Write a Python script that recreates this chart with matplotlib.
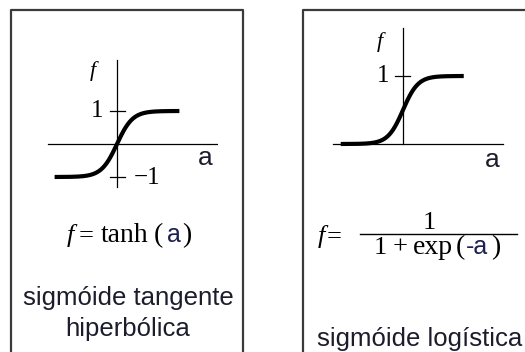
'''
Funções de ativação sigmoides: tanh e logística
'''
import numpy as np
import matplotlib
matplotlib.use("Agg")
from matplotlib import pyplot as plt

# valores de a para cada curva
a_tanh = np.linspace(-4.0, 4.0, 201)
a_logistica = np.linspace(-8.3, 8.1, 201)
f_tanh = np.tanh(a_tanh)
f_logistica = 1.0 / (1.0 + np.exp(-a_logistica))

W, H = 525, 352
SERIF = "Liberation Serif"
SANS = "Liberation Sans"
COR_TEXTO = "#1c1c2c"
COR_A = "#1c2250"

fig = plt.figure(figsize=(W / 100, H / 100), dpi=100)

# eixo de fundo em pixels, para as caixas e os textos
bg = fig.add_axes([0, 0, 1, 1])
bg.set_xlim(0, W)
bg.set_ylim(H, 0)
bg.axis("off")


def eixo_grafico(x0, y0, ux, uy, xlim, ylim):
    # x0, y0 = origem em pixels, ux, uy = pixels por unidade
    esq = x0 + xlim[0] * ux
    dir_ = x0 + xlim[1] * ux
    topo = y0 - ylim[1] * uy
    base = y0 - ylim[0] * uy
    ax = fig.add_axes([esq / W, 1 - base / H, (dir_ - esq) / W, (base - topo) / H])
    ax.set_xlim(*xlim)
    ax.set_ylim(*ylim)
    ax.axis("off")
    return ax


# caixas
kw_caixa = dict(color="#3a3a3a", lw=1.6, solid_capstyle="projecting")
bg.plot([11, 11, 243, 243], [H + 5, 10, 10, H + 5], **kw_caixa)
bg.plot([303, 303, W + 5], [H + 5, 10, 10], **kw_caixa)

# tangente hiperbólica
ax1 = eixo_grafico(117, 144, 15.6, 33, (-4.5, 6.5), (-1.5, 2.7))
ax1.plot([-4.4, 6.4], [0, 0], color="black", lw=0.9)
ax1.plot([0, 0], [-1.3, 2.55], color="black", lw=0.9)
ax1.plot([-0.45, 0.5], [1, 1], color="black", lw=0.9)
ax1.plot([-0.45, 0.5], [-1, -1], color="black", lw=0.9)
ax1.plot(a_tanh, f_tanh, color="black", lw=3.0, solid_capstyle="butt")

bg.text(93, 71, "f", family=SERIF, style="italic", fontsize=16, ha="center", va="center")
bg.text(97, 111, "1", family=SERIF, fontsize=18, ha="center", va="center")
bg.text(134, 178, "\u22121", family=SERIF, fontsize=18, ha="left", va="center")
bg.text(205, 158, "a", family=SANS, fontsize=19, color=COR_TEXTO, ha="center", va="center")

# f = tanh(a)
yb = 242
bg.text(67, yb, "f", family=SERIF, style="italic", fontsize=19, ha="left", va="baseline")
bg.text(79, yb, "=", family=SERIF, fontsize=19, ha="left", va="baseline")
bg.text(101, yb, "tanh", family=SERIF, fontsize=20, ha="left", va="baseline")
bg.text(154, yb, "(", family=SERIF, fontsize=20, ha="left", va="baseline")
bg.text(167, yb, "a", family=SANS, fontsize=18, color=COR_A, ha="left", va="baseline")
bg.text(182, yb, ")", family=SERIF, fontsize=20, ha="left", va="baseline")

bg.text(128, 298, "sigmóide tangente", family=SANS, fontsize=18.5, color=COR_TEXTO,
        ha="center", va="center")
bg.text(128, 329, "hiperbólica", family=SANS, fontsize=18.5, color=COR_TEXTO,
        ha="center", va="center")

# logística
ax2 = eixo_grafico(403, 144, 7.5, 68, (-10, 14), (-0.3, 1.8))
ax2.plot([-9.33, 13.33], [0, 0], color="black", lw=0.9)
ax2.plot([0, 0], [0, 1.7], color="black", lw=0.9)
ax2.plot([-1.07, 0.93], [1, 1], color="black", lw=0.9)
ax2.plot(a_logistica, f_logistica, color="black", lw=3.0, solid_capstyle="butt")

bg.text(380, 42, "f", family=SERIF, style="italic", fontsize=16, ha="center", va="center")
bg.text(383, 76, "1", family=SERIF, fontsize=18, ha="center", va="center")
bg.text(492, 160, "a", family=SANS, fontsize=19, color=COR_TEXTO, ha="center", va="center")

# f = 1 / (1 + exp(-a))
bg.text(318, 243, "f", family=SERIF, style="italic", fontsize=19, ha="left", va="baseline")
bg.text(327, 243, "=", family=SERIF, fontsize=19, ha="left", va="baseline")
bg.plot([360, 517], [233.5, 233.5], color="black", lw=1.0)
bg.text(429.5, 229, "1", family=SERIF, fontsize=19, ha="center", va="baseline")
yd = 254
bg.text(374, yd, "1", family=SERIF, fontsize=19, ha="left", va="baseline")
bg.text(393, yd, "+", family=SERIF, fontsize=19, ha="left", va="baseline")
bg.text(413, yd, "exp", family=SERIF, fontsize=20, ha="left", va="baseline")
bg.text(456, yd, "(", family=SERIF, fontsize=20, ha="left", va="baseline")
bg.text(466, yd, "-a", family=SANS, fontsize=18, color=COR_A, ha="left", va="baseline")
bg.text(491, yd, ")", family=SERIF, fontsize=20, ha="left", va="baseline")

bg.text(419.5, 339, "sigmóide logística", family=SANS, fontsize=18.5, color=COR_TEXTO,
        ha="center", va="center")

fig.savefig("out.png", dpi=100)
